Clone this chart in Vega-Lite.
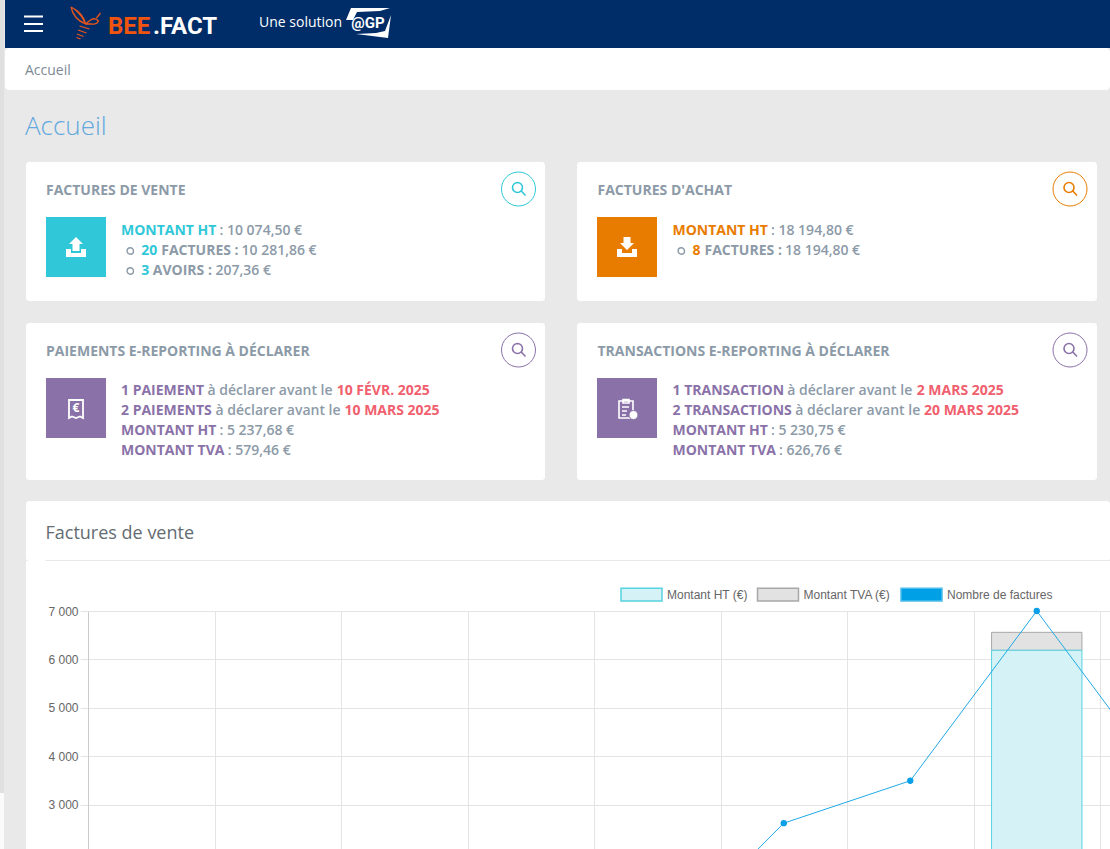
{"$schema":"https://vega.github.io/schema/vega-lite/v6.json","background":"#e9e9e9","padding":0,"bounds":"flush","spacing":0,"config":{"view":{"stroke":null},"concat":{"spacing":0},"text":{"font":"Open Sans","fontSize":14,"align":"left","baseline":"middle","dy":1}},
"hconcat":[
{"vconcat":[{"width":4,"height":793,"view":{"fill":"#e0e0e0"},"data":{"values":[{}]},"mark":{"type":"rect","opacity":0}},{"width":4,"height":56,"view":{"fill":"#fbfbfb"},"data":{"values":[{}]},"mark":{"type":"rect","opacity":0}}],"spacing":0,"bounds":"flush"},
{"width":5,"height":10,"data":{"values":[{}]},"mark":{"type":"rect","opacity":0}},
{"vconcat":[
{"width":1105,"height":48,"view":{"fill":"#002d67"},"layer":[
{"data":{"values":[{"zone":"menu"}]},"mark":{"type":"point","shape":"M-9.5,-8.5H9.5V-6.5H-9.5Z M-9.5,-1H9.5V1H-9.5Z M-9.5,6H9.5V8H-9.5Z","size":4,"filled":true,"opacity":1,"fill":"#ffffff","strokeWidth":0},"encoding":{"x":{"field":"zone","type":"nominal","scale":{"type":"point","padding":0,"domain":["menu","gp"],"range":[28.5,363]},"axis":null}}},
{"data":{"values":[{"zone":"menu"}]},"mark":{"type":"point","shape":"M37.5,-17 Q50,-11 52,0 Q40,-5 37.5,-17 M41,-15 Q49,-8 52,0 M52,0 L57,-4 Q62,-7 65,-3 Q63,1 58,0 L52,0 M63,-6 L67,-11 M46,2 L56,5 M44.5,6 L53,9 M43.5,10 L50,12.5 M43,13.5 L47,15","size":4,"filled":false,"opacity":1,"stroke":"#e8551c","strokeWidth":1.3},"encoding":{"x":{"field":"zone","type":"nominal","scale":{"type":"point","padding":0,"domain":["menu","gp"],"range":[28.5,363]},"axis":null}}},
{"data":{"values":[{"zone":"gp"}]},"mark":{"type":"point","shape":"M-22,-4 L-17,-16 L22,-16 L12,-13 L-11,-12 L-15,-4 Z M23,-9 L20,14 L-12,10 L8,9 L17,7 Z","size":4,"filled":true,"opacity":1,"fill":"#ffffff","strokeWidth":0},"encoding":{"x":{"field":"zone","type":"nominal","scale":{"type":"point","padding":0,"domain":["menu","gp"],"range":[28.5,363]},"axis":null}}},
{"data":{"values":[{"texte":"BEE"}]},"mark":{"type":"text","dx":-449.5,"dy":3,"font":"Roboto","fontSize":24,"fontWeight":"bold","color":"#f0540f"},"encoding":{"text":{"field":"texte"}}},
{"data":{"values":[{"texte":".FACT"}]},"mark":{"type":"text","dx":-404.5,"dy":3,"font":"Roboto","fontSize":24,"fontWeight":"bold","color":"#ffffff"},"encoding":{"text":{"field":"texte"}}},
{"data":{"values":[{"texte":"Une solution"}]},"mark":{"type":"text","dx":-298.5,"dy":-1,"color":"#ffffff"},"encoding":{"text":{"field":"texte"}}},
{"data":{"values":[{"texte":"@GP"}]},"mark":{"type":"text","dx":-189.5,"dy":-1,"align":"center","font":"Roboto","fontSize":15,"fontWeight":"bold","color":"#ffffff"},"encoding":{"text":{"field":"texte"}}}
]},
{"width":1105,"height":42,"view":{"fill":"#ffffff","cornerRadius":4},"data":{"values":[{"texte":"Accueil"}]},"mark":{"type":"text","dx":-532.5,"dy":2,"color":"#7d8a94"},"encoding":{"text":{"field":"texte"}}},
{"width":1105,"height":72,"data":{"values":[{"texte":"Accueil"}]},"mark":{"type":"text","dx":-532.5,"dy":1,"fontSize":26,"fontWeight":300,"color":"#63a8de"},"encoding":{"text":{"field":"texte"}}},
{"hconcat":[
{"width":21,"height":10,"data":{"values":[{}]},"mark":{"type":"rect","opacity":0}},
{"width":519,"height":139,"view":{"fill":"#ffffff","cornerRadius":3},"encoding":{"y":{"field":"ligne","type":"nominal","scale":{"type":"point","padding":0,"domain":["titre","vide","l1","l2","l3","l4"],"range":[28,128]},"axis":null},"text":{"field":"texte"}},"layer":[
{"data":{"values":[{"zone":"icone","ligne":"l1"}]},"mark":{"type":"point","shape":"M-30,-13H30V47H-30Z","size":4,"filled":true,"opacity":1,"fill":"#30c8d8","strokeWidth":0},"encoding":{"x":{"field":"zone","type":"nominal","scale":{"type":"point","padding":0,"domain":["icone","loupe"],"range":[50,492.5]},"axis":null}}},
{"data":{"values":[{"zone":"icone","ligne":"l1"}]},"mark":{"type":"point","shape":"M0,7 L7,14 H3.5 V21 H-3.5 V14 H-7 Z M-10,19 H-5 V23 H5 V19 H10 V27 H-10 Z","size":4,"filled":true,"opacity":1,"fill":"#ffffff","strokeWidth":0},"encoding":{"x":{"field":"zone","type":"nominal"}}},
{"data":{"values":[{"zone":"icone","ligne":"l2"},{"zone":"icone","ligne":"l3"}]},"mark":{"type":"point","shape":"M57.5,1 A3.2,3.2 0 1 0 51.1,1 A3.2,3.2 0 1 0 57.5,1","size":4,"filled":false,"opacity":1,"stroke":"#8c9aa8","strokeWidth":1.4},"encoding":{"x":{"field":"zone","type":"nominal"}}},
{"data":{"values":[{"zone":"loupe","ligne":"titre"}]},"mark":{"type":"point","shape":"M0,-18 A17,17 0 1 0 0,16 A17,17 0 1 0 0,-18","size":4,"filled":false,"opacity":1,"stroke":"#30c8d8","strokeWidth":1},"encoding":{"x":{"field":"zone","type":"nominal"}}},
{"data":{"values":[{"zone":"loupe","ligne":"titre"}]},"mark":{"type":"point","shape":"M-1,-7.5 A5,5 0 1 0 -1,2.5 A5,5 0 1 0 -1,-7.5 M2.8,1 L7,5.5","size":4,"filled":false,"opacity":1,"stroke":"#30c8d8","strokeWidth":1.6},"encoding":{"x":{"field":"zone","type":"nominal"}}},
{"data":{"values":[{"ligne":"titre","texte":"FACTURES DE VENTE"}]},"mark":{"type":"text","dx":-239.5,"fontWeight":700,"color":"#8c9aa8","fontSize":14}},
{"data":{"values":[{"ligne":"l1","texte":"MONTANT HT"}]},"mark":{"type":"text","dx":-164.5,"fontWeight":700,"color":"#30c8d8"}},
{"data":{"values":[{"ligne":"l1","texte":": 10 074,50 €"}]},"mark":{"type":"text","dx":-66,"fontWeight":600,"color":"#8c9aa8"}},
{"data":{"values":[{"ligne":"l2","texte":"20"},{"ligne":"l3","texte":"3"}]},"mark":{"type":"text","dx":-144.3,"fontWeight":700,"color":"#30c8d8"}},
{"data":{"values":[{"ligne":"l2","texte":"FACTURES :"}]},"mark":{"type":"text","dx":-124.3,"fontWeight":700,"color":"#8c9aa8"}},
{"data":{"values":[{"ligne":"l2","texte":"10 281,86 €"}]},"mark":{"type":"text","dx":-44,"fontWeight":600,"color":"#8c9aa8"}},
{"data":{"values":[{"ligne":"l3","texte":"AVOIRS :"}]},"mark":{"type":"text","dx":-132.7,"fontWeight":700,"color":"#8c9aa8"}},
{"data":{"values":[{"ligne":"l3","texte":"207,36 €"}]},"mark":{"type":"text","dx":-70,"fontWeight":600,"color":"#8c9aa8"}}
]},
{"width":32,"height":10,"data":{"values":[{}]},"mark":{"type":"rect","opacity":0}},
{"width":520,"height":139,"view":{"fill":"#ffffff","cornerRadius":3},"encoding":{"y":{"field":"ligne","type":"nominal","scale":{"type":"point","padding":0,"domain":["titre","vide","l1","l2","l3","l4"],"range":[28,128]},"axis":null},"text":{"field":"texte"}},"layer":[
{"data":{"values":[{"zone":"icone","ligne":"l1"}]},"mark":{"type":"point","shape":"M-30,-13H30V47H-30Z","size":4,"filled":true,"opacity":1,"fill":"#e87c00","strokeWidth":0},"encoding":{"x":{"field":"zone","type":"nominal","scale":{"type":"point","padding":0,"domain":["icone","loupe"],"range":[50,493]},"axis":null}}},
{"data":{"values":[{"zone":"icone","ligne":"l1"}]},"mark":{"type":"point","shape":"M-3.5,7 H3.5 V13 H7 L0,20 L-7,13 H-3.5 Z M-10,19 H-5 V23 H5 V19 H10 V27 H-10 Z","size":4,"filled":true,"opacity":1,"fill":"#ffffff","strokeWidth":0},"encoding":{"x":{"field":"zone","type":"nominal"}}},
{"data":{"values":[{"zone":"icone","ligne":"l2"}]},"mark":{"type":"point","shape":"M57.5,1 A3.2,3.2 0 1 0 51.1,1 A3.2,3.2 0 1 0 57.5,1","size":4,"filled":false,"opacity":1,"stroke":"#8c9aa8","strokeWidth":1.4},"encoding":{"x":{"field":"zone","type":"nominal"}}},
{"data":{"values":[{"zone":"loupe","ligne":"titre"}]},"mark":{"type":"point","shape":"M0,-18 A17,17 0 1 0 0,16 A17,17 0 1 0 0,-18","size":4,"filled":false,"opacity":1,"stroke":"#e87c00","strokeWidth":1},"encoding":{"x":{"field":"zone","type":"nominal"}}},
{"data":{"values":[{"zone":"loupe","ligne":"titre"}]},"mark":{"type":"point","shape":"M-1,-7.5 A5,5 0 1 0 -1,2.5 A5,5 0 1 0 -1,-7.5 M2.8,1 L7,5.5","size":4,"filled":false,"opacity":1,"stroke":"#e87c00","strokeWidth":1.6},"encoding":{"x":{"field":"zone","type":"nominal"}}},
{"data":{"values":[{"ligne":"titre","texte":"FACTURES D'ACHAT"}]},"mark":{"type":"text","dx":-239.5,"fontWeight":700,"color":"#8c9aa8"}},
{"data":{"values":[{"ligne":"l1","texte":"MONTANT HT"}]},"mark":{"type":"text","dx":-164.5,"fontWeight":700,"color":"#e87c00"}},
{"data":{"values":[{"ligne":"l1","texte":": 18 194,80 €"}]},"mark":{"type":"text","dx":-66,"fontWeight":600,"color":"#8c9aa8"}},
{"data":{"values":[{"ligne":"l2","texte":"8"}]},"mark":{"type":"text","dx":-144.5,"fontWeight":700,"color":"#e87c00"}},
{"data":{"values":[{"ligne":"l2","texte":"FACTURES :"}]},"mark":{"type":"text","dx":-132.5,"fontWeight":700,"color":"#8c9aa8"}},
{"data":{"values":[{"ligne":"l2","texte":"18 194,80 €"}]},"mark":{"type":"text","dx":-52,"fontWeight":600,"color":"#8c9aa8"}}
]}
],"spacing":0,"bounds":"flush"},
{"width":10,"height":161,"data":{"values":[{}]},"mark":{"type":"rect","opacity":0}},
{"hconcat":[
{"width":21,"height":10,"data":{"values":[{}]},"mark":{"type":"rect","opacity":0}},
{"width":519,"height":157,"view":{"fill":"#ffffff","cornerRadius":3},"encoding":{"y":{"field":"ligne","type":"nominal","scale":{"type":"point","padding":0,"domain":["titre","vide","l1","l2","l3","l4"],"range":[27,127]},"axis":null},"text":{"field":"texte"}},"layer":[
{"data":{"values":[{"zone":"icone","ligne":"l1"}]},"mark":{"type":"point","shape":"M-30,-12H30V48H-30Z","size":4,"filled":true,"opacity":1,"fill":"#8a72a8","strokeWidth":0},"encoding":{"x":{"field":"zone","type":"nominal","scale":{"type":"point","padding":0,"domain":["icone","loupe"],"range":[50,492.5]},"axis":null}}},
{"data":{"values":[{"zone":"icone","ligne":"l1"}]},"mark":{"type":"point","shape":"M-7,10 H7 V28 L4,26.5 L0,28 L-4,26.5 L-7,28 Z","size":4,"filled":false,"opacity":1,"stroke":"#ffffff","strokeWidth":1.8},"encoding":{"x":{"field":"zone","type":"nominal"}}},
{"data":{"values":[{"zone":"loupe","ligne":"titre"}]},"mark":{"type":"point","shape":"M0,-17 A17,17 0 1 0 0,17 A17,17 0 1 0 0,-17","size":4,"filled":false,"opacity":1,"stroke":"#8a72a8","strokeWidth":1},"encoding":{"x":{"field":"zone","type":"nominal"}}},
{"data":{"values":[{"zone":"loupe","ligne":"titre"}]},"mark":{"type":"point","shape":"M-1,-6.5 A5,5 0 1 0 -1,3.5 A5,5 0 1 0 -1,-6.5 M2.8,2 L7,6.5","size":4,"filled":false,"opacity":1,"stroke":"#8a72a8","strokeWidth":1.6},"encoding":{"x":{"field":"zone","type":"nominal"}}},
{"data":{"values":[{"ligne":"l1","texte":"€"}]},"mark":{"type":"text","dx":-209.5,"dy":18,"align":"center","fontSize":12,"fontWeight":700,"color":"#ffffff"}},
{"data":{"values":[{"ligne":"titre","texte":"PAIEMENTS E-REPORTING À DÉCLARER"}]},"mark":{"type":"text","dx":-239.5,"dy":2,"fontWeight":700,"color":"#8c9aa8"}},
{"data":{"values":[{"ligne":"l1","texte":"1 PAIEMENT"},{"ligne":"l2","texte":"2 PAIEMENTS"},{"ligne":"l3","texte":"MONTANT HT"},{"ligne":"l4","texte":"MONTANT TVA"}]},"mark":{"type":"text","dx":-164.5,"fontWeight":700,"color":"#8a72a8"}},
{"data":{"values":[{"ligne":"l1","texte":"à déclarer avant le"}]},"mark":{"type":"text","dx":-78,"fontWeight":600,"color":"#8c9aa8"}},
{"data":{"values":[{"ligne":"l2","texte":"à déclarer avant le"}]},"mark":{"type":"text","dx":-70,"fontWeight":600,"color":"#8c9aa8"}},
{"data":{"values":[{"ligne":"l1","texte":"10 FÉVR. 2025"}]},"mark":{"type":"text","dx":51.2,"fontWeight":700,"color":"#f0606e"}},
{"data":{"values":[{"ligne":"l2","texte":"10 MARS 2025"}]},"mark":{"type":"text","dx":59,"fontWeight":700,"color":"#f0606e"}},
{"data":{"values":[{"ligne":"l3","texte":": 5 237,68 €"}]},"mark":{"type":"text","dx":-66,"fontWeight":600,"color":"#8c9aa8"}},
{"data":{"values":[{"ligne":"l4","texte":": 579,46 €"}]},"mark":{"type":"text","dx":-57.7,"fontWeight":600,"color":"#8c9aa8"}}
]},
{"width":32,"height":10,"data":{"values":[{}]},"mark":{"type":"rect","opacity":0}},
{"width":520,"height":157,"view":{"fill":"#ffffff","cornerRadius":3},"encoding":{"y":{"field":"ligne","type":"nominal","scale":{"type":"point","padding":0,"domain":["titre","vide","l1","l2","l3","l4"],"range":[27,127]},"axis":null},"text":{"field":"texte"}},"layer":[
{"data":{"values":[{"zone":"icone","ligne":"l1"}]},"mark":{"type":"point","shape":"M-30,-12H30V48H-30Z","size":4,"filled":true,"opacity":1,"fill":"#8a72a8","strokeWidth":0},"encoding":{"x":{"field":"zone","type":"nominal","scale":{"type":"point","padding":0,"domain":["icone","loupe"],"range":[50,493]},"axis":null}}},
{"data":{"values":[{"zone":"icone","ligne":"l1"}]},"mark":{"type":"point","shape":"M-8,11 H6 V28 H-8 Z M-4,9.5 H2 V13 H-4 Z M-5,17 H2 M-5,21 H0 M-5,25 H-1","size":4,"filled":false,"opacity":1,"stroke":"#ffffff","strokeWidth":1.6},"encoding":{"x":{"field":"zone","type":"nominal"}}},
{"data":{"values":[{"zone":"icone","ligne":"l1"}]},"mark":{"type":"point","shape":"M11,25 A4.5,4.5 0 1 0 2,25 A4.5,4.5 0 1 0 11,25 Z","size":4,"filled":true,"opacity":1,"fill":"#ffffff","stroke":"#8a72a8","strokeWidth":1},"encoding":{"x":{"field":"zone","type":"nominal"}}},
{"data":{"values":[{"zone":"loupe","ligne":"titre"}]},"mark":{"type":"point","shape":"M0,-17 A17,17 0 1 0 0,17 A17,17 0 1 0 0,-17","size":4,"filled":false,"opacity":1,"stroke":"#8a72a8","strokeWidth":1},"encoding":{"x":{"field":"zone","type":"nominal"}}},
{"data":{"values":[{"zone":"loupe","ligne":"titre"}]},"mark":{"type":"point","shape":"M-1,-6.5 A5,5 0 1 0 -1,3.5 A5,5 0 1 0 -1,-6.5 M2.8,2 L7,6.5","size":4,"filled":false,"opacity":1,"stroke":"#8a72a8","strokeWidth":1.6},"encoding":{"x":{"field":"zone","type":"nominal"}}},
{"data":{"values":[{"ligne":"titre","texte":"TRANSACTIONS E-REPORTING À DÉCLARER"}]},"mark":{"type":"text","dx":-239.5,"dy":2,"fontWeight":700,"color":"#8c9aa8"}},
{"data":{"values":[{"ligne":"l1","texte":"1 TRANSACTION"},{"ligne":"l2","texte":"2 TRANSACTIONS"},{"ligne":"l3","texte":"MONTANT HT"},{"ligne":"l4","texte":"MONTANT TVA"}]},"mark":{"type":"text","dx":-164.5,"fontWeight":700,"color":"#8a72a8"}},
{"data":{"values":[{"ligne":"l1","texte":"à déclarer avant le"}]},"mark":{"type":"text","dx":-49.8,"fontWeight":600,"color":"#8c9aa8"}},
{"data":{"values":[{"ligne":"l2","texte":"à déclarer avant le"}]},"mark":{"type":"text","dx":-41.8,"fontWeight":600,"color":"#8c9aa8"}},
{"data":{"values":[{"ligne":"l1","texte":"2 MARS 2025"}]},"mark":{"type":"text","dx":79.7,"fontWeight":700,"color":"#f0606e"}},
{"data":{"values":[{"ligne":"l2","texte":"20 MARS 2025"}]},"mark":{"type":"text","dx":87,"fontWeight":700,"color":"#f0606e"}},
{"data":{"values":[{"ligne":"l3","texte":": 5 230,75 €"}]},"mark":{"type":"text","dx":-66,"fontWeight":600,"color":"#8c9aa8"}},
{"data":{"values":[{"ligne":"l4","texte":": 626,76 €"}]},"mark":{"type":"text","dx":-58,"fontWeight":600,"color":"#8c9aa8"}}
]}
],"spacing":0,"bounds":"flush"},
{"width":10,"height":178,"data":{"values":[{}]},"mark":{"type":"rect","opacity":0}},
{"hconcat":[
{"width":21,"height":10,"data":{"values":[{}]},"mark":{"type":"rect","opacity":0}},
{"vconcat":[
{"width":1084,"height":60,"view":{"fill":"#ffffff","cornerRadius":3},"encoding":{"y":{"field":"niveau","type":"nominal","scale":{"type":"point","padding":0,"domain":["titre","filet"],"range":[31,59.5]},"axis":null}},"layer":[
{"data":{"values":[{"zone":"debut","niveau":"filet"},{"zone":"fin","niveau":"filet"}]},"mark":{"type":"line","color":"#e8e8e8","strokeWidth":1},"encoding":{"x":{"field":"zone","type":"nominal","scale":{"type":"point","padding":0,"domain":["debut","fin"],"range":[19.5,1084]},"axis":null}}},
{"data":{"values":[{"niveau":"titre","texte":"Factures de vente"}]},"mark":{"type":"text","dx":-522.5,"dy":2,"fontSize":18,"color":"#636c72"},"encoding":{"text":{"field":"texte"}}}
]},
{"width":1084,"height":50,"view":{"fill":"#ffffff"},"data":{"values":[{}]},"mark":{"type":"rect","opacity":0}},
{"hconcat":[
{"width":62,"height":239,"view":{"fill":"#ffffff"},"data":{"values":[{}]},"mark":{"type":"rect","opacity":0}},
{"width":1022,"height":239,"view":{"fill":"#ffffff"},
"data":{"values":[
{"mois":8,"serie":"Montant TVA (€)","valeur":370},
{"mois":8,"serie":"Montant HT (€)","valeur":6190},
{"mois":1,"serie":"Nombre de factures","valeur":0},
{"mois":2,"serie":"Nombre de factures","valeur":0},
{"mois":3,"serie":"Nombre de factures","valeur":0},
{"mois":4,"serie":"Nombre de factures","valeur":0},
{"mois":5,"serie":"Nombre de factures","valeur":0},
{"mois":6,"serie":"Nombre de factures","valeur":3},
{"mois":7,"serie":"Nombre de factures","valeur":4},
{"mois":8,"serie":"Nombre de factures","valeur":8},
{"mois":9,"serie":"Nombre de factures","valeur":4}
]},
"encoding":{"x":{"field":"mois","type":"quantitative","scale":{"domain":[0.5,8.579],"nice":false,"zero":false,"padding":0},"axis":{"values":[0.5,1.5,2.5,3.5,4.5,5.5,6.5,7.5,8.5],"grid":true,"gridColor":"#e4e4e4","labels":false,"ticks":false,"domain":false,"title":null}}},
"layer":[
{"transform":[{"filter":"datum.serie !== 'Nombre de factures'"}],"mark":{"type":"bar","orient":"vertical","size":90.4,"clip":true,"strokeWidth":1},
"encoding":{"y":{"field":"valeur","type":"quantitative","stack":"zero","scale":{"domain":[2072,7000],"nice":false,"zero":false},"axis":{"values":[3000,4000,5000,6000,7000],"title":null,"grid":true,"gridColor":"#e4e4e4","domainColor":"#cccccc","tickColor":"#e4e4e4","tickSize":8,"labelPadding":2,"labelFont":"Liberation Sans","labelFontSize":12,"labelColor":"#666666","labelExpr":"replace(format(datum.value,','),',',' ')"}},
"order":{"field":"serie","sort":"ascending"},
"fill":{"field":"serie","type":"nominal","scale":{"domain":["Montant HT (€)","Montant TVA (€)","Nombre de factures"],"range":["#d5f3f6","#e2e2e2","#00a0e6"]},"legend":{"orient":"none","legendX":620,"legendY":573,"direction":"horizontal","title":null,"gridAlign":"each","symbolType":"M-1,-0.31H1V0.31H-1Z","symbolSize":1681,"symbolStrokeWidth":1.5,"labelFont":"Liberation Sans","labelFontSize":12,"labelColor":"#666666","labelOffset":4,"columnPadding":6.5}},
"stroke":{"field":"serie","type":"nominal","scale":{"domain":["Montant HT (€)","Montant TVA (€)","Nombre de factures"],"range":["#55d2e0","#a8a8a8","#4cbcec"]},"legend":{"orient":"none","legendX":620,"legendY":573,"direction":"horizontal","title":null,"gridAlign":"each","symbolType":"M-1,-0.31H1V0.31H-1Z","symbolSize":1681,"symbolStrokeWidth":1.5,"labelFont":"Liberation Sans","labelFontSize":12,"labelColor":"#666666","labelOffset":4,"columnPadding":6.5}}}},
{"transform":[{"filter":"datum.serie === 'Nombre de factures'"}],"mark":{"type":"line","clip":true,"strokeWidth":1,"color":"#22a9e6"},
"encoding":{"y":{"field":"valeur","type":"quantitative","scale":{"domain":[2.368,8],"nice":false,"zero":false},"axis":null}}},
{"transform":[{"filter":"datum.serie === 'Nombre de factures' && datum.mois <= 8 && datum.valeur > 0"}],"mark":{"type":"point","filled":true,"opacity":1,"size":40,"color":"#0a9fe6"},
"encoding":{"y":{"field":"valeur","type":"quantitative","scale":{"domain":[2.368,8],"nice":false,"zero":false},"axis":null}}}
],"resolve":{"scale":{"y":"independent"}}}
],"spacing":0,"bounds":"flush"}
],"spacing":0,"bounds":"flush"}
],"spacing":0,"bounds":"flush"}
],"spacing":0,"bounds":"flush"}
],"spacing":0}
